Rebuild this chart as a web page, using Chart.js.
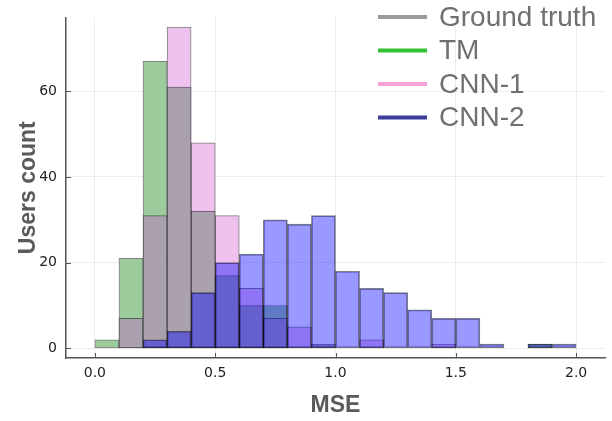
<!DOCTYPE html>
<html><head><meta charset="utf-8">
<script src="https://cdn.jsdelivr.net/npm/chart.js@4.4.0/dist/chart.umd.min.js"></script>
<style>html,body{margin:0;padding:0;background:#fff}canvas{display:block}</style>
</head><body>
<canvas id="c" width="612" height="421"></canvas>
<script>
// Histogram bins (width 0.1) - centers
const binCenters = [0.05,0.15,0.25,0.35,0.45,0.55,0.65,0.75,0.85,0.95,1.05,1.15,1.25,1.35,1.45,1.55,1.65,1.75,1.85,1.95];
const seriesNames = ["Ground truth","TM","CNN-1","CNN-2"];
const groundTruth = [0,7,31,61,32,17,10,7,0,1,0,0,0,0,0,0,0,0,0,0];
const tm          = [2,21,67,0,0,0,0,10,0,0,0,0,0,0,0,0,0,0,1,0];
const cnn1        = [0,0,0,75,48,31,14,0,5,0,0,2,0,0,1,0,0,0,0,0];
const cnn2        = [0,0,2,4,13,20,22,30,29,31,18,14,13,9,7,7,1,0,1,1];
const xTicks = [0,0.5,1,1.5,2];
const yTicks = [0,20,40,60];
const xLabel = "MSE";
const yLabel = "Users count";

const fills   = ["rgb(171,160,173)","rgb(156,204,156)","rgb(239,193,239)","rgba(0,0,255,0.4)"];
const legendColors = ["#9a9a9a","#33c233","#f7a3d6","#3d3d9c"];
const drawOrder = [1,2,3,0];
const seriesData = [groundTruth, tm, cnn1, cnn2];

const datasets = seriesData.map((arr,i)=>({
  label: seriesNames[i],
  data: arr.map((v,j)=>({x: binCenters[j], y: v})),
  backgroundColor: fills[i],
  borderColor: "rgba(0,0,0,0.5)",
  borderWidth: 1,
  borderSkipped: false,
  barPercentage: 1,
  categoryPercentage: 1,
  grouped: false,
  order: drawOrder[i]
}));

const tickPlugin = {
  id: 'inTicks',
  afterDraw(chart){
    const {ctx, chartArea:a, scales:{x,y}} = chart;
    ctx.save();
    ctx.strokeStyle = "#555"; ctx.lineWidth = 1;
    xTicks.forEach(v=>{const p=Math.round(x.getPixelForValue(v))+0.5; ctx.beginPath(); ctx.moveTo(p,a.bottom); ctx.lineTo(p,a.bottom-5); ctx.stroke();});
    yTicks.forEach(v=>{const p=Math.round(y.getPixelForValue(v))+0.5; ctx.beginPath(); ctx.moveTo(a.left,p); ctx.lineTo(a.left+5,p); ctx.stroke();});
    // legend
    ctx.font = "28px 'Liberation Sans', Arial, sans-serif";
    ctx.textBaseline = "middle";
    ctx.textAlign = "left";
    seriesNames.forEach((n,i)=>{
      const yy = 17 + i*33.5;
      ctx.strokeStyle = legendColors[i]; ctx.lineWidth = 4;
      ctx.beginPath(); ctx.moveTo(378,yy); ctx.lineTo(427,yy); ctx.stroke();
      ctx.fillStyle = "#707070";
      ctx.fillText(n, 439, yy+1);
    });
    ctx.restore();
  }
};

new Chart(document.getElementById('c'), {
  type: 'bar',
  data: { datasets },
  options: {
    responsive: false,
    devicePixelRatio: 1,
    animation: false,
    layout: { padding: { left: 0, right: 7, top: 13, bottom: 0 } },
    plugins: { legend: { display: false }, tooltip: { enabled: false } },
    scales: {
      x: {
        type: 'linear', min: -0.12, max: 2.12, offset: false,
        afterBuildTicks(s){ s.ticks = xTicks.map(v=>({value:v})); },
        afterFit(s){ s.height = 63; },
        grid: { color: "rgba(0,0,0,0.07)", drawTicks: false, offset: false },
        border: { display: true, color: "#555", width: 1.5 },
        ticks: { padding: 7, color: "#222", font: { size: 14, family: "'DejaVu Sans', sans-serif" },
                 callback: v => Number(v).toFixed(1), maxRotation: 0 },
        title: { display: true, text: xLabel, color: "#5a5a5a",
                 font: { size: 23, weight: 'bold', family: "'Liberation Sans', Arial, sans-serif" },
                 padding: { top: 0, bottom: 2 } }
      },
      y: {
        min: -2.25, max: 77.25,
        afterBuildTicks(s){ s.ticks = yTicks.map(v=>({value:v})); },
        afterFit(s){ s.width = 66; },
        grid: { color: "rgba(0,0,0,0.07)", drawTicks: false },
        border: { display: true, color: "#555", width: 1.5 },
        ticks: { padding: 9, color: "#222", font: { size: 14, family: "'DejaVu Sans', sans-serif" } },
        title: { display: true, text: yLabel, color: "#5a5a5a",
                 font: { size: 23, weight: 'bold', family: "'Liberation Sans', Arial, sans-serif" },
                 padding: { top: 15, bottom: 0 } }
      }
    }
  },
  plugins: [tickPlugin]
});
</script>
</body></html>
